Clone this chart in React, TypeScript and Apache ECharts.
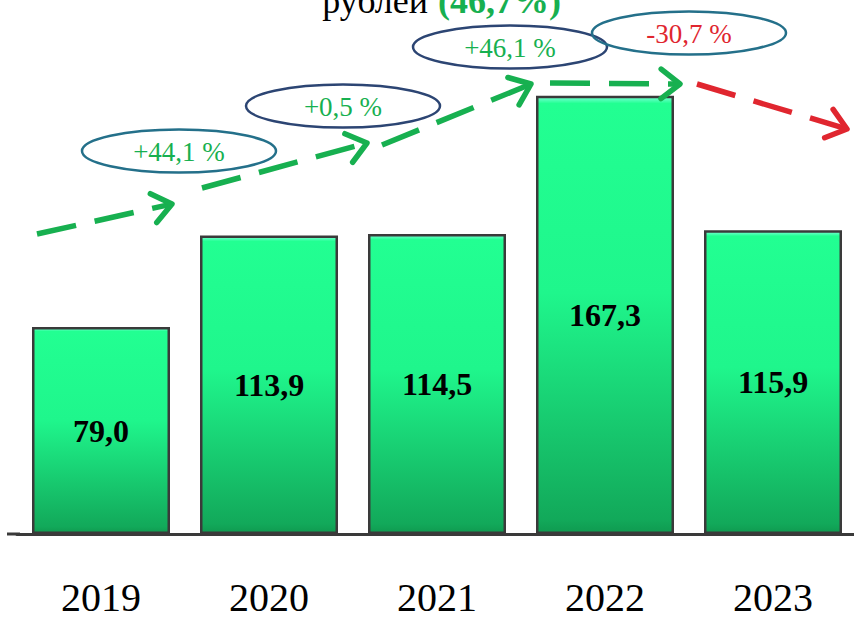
import React, { useEffect, useRef } from "react";
import * as echarts from "echarts";

const categories = ["2019", "2020", "2021", "2022", "2023"];
const values = [79.0, 113.9, 114.5, 167.3, 115.9];
const valueLabels = ["79,0", "113,9", "114,5", "167,3", "115,9"];
const changeLabels = ["+44,1 %", "+0,5 %", "+46,1 %", "-30,7 %"];
const titleText = "рублей";
const titleShare = "(46,7%)";

const SERIF = '"Liberation Serif", "Times New Roman", serif';
const GREEN = "#17b050";
const RED = "#e0262f";
const TEAL = "#24708a";
const NAVY = "#2c4573";

function chevron(sx: number, sy: number, tx: number, ty: number, color: string) {
  const dx = tx - sx;
  const dy = ty - sy;
  const len = Math.sqrt(dx * dx + dy * dy);
  const ux = -dx / len;
  const uy = -dy / len;
  const a = (38 * Math.PI) / 180;
  const L = 24;
  const r1x = ux * Math.cos(a) - uy * Math.sin(a);
  const r1y = ux * Math.sin(a) + uy * Math.cos(a);
  const r2x = ux * Math.cos(-a) - uy * Math.sin(-a);
  const r2y = ux * Math.sin(-a) + uy * Math.cos(-a);
  return {
    type: "polyline",
    shape: {
      points: [
        [tx + r1x * L, ty + r1y * L],
        [tx, ty],
        [tx + r2x * L, ty + r2y * L],
      ],
    },
    style: { stroke: color, lineWidth: 5.5, fill: "none", lineCap: "round", lineJoin: "round" },
    z: 10,
  };
}

function dashed(sx: number, sy: number, tx: number, ty: number, color: string) {
  return {
    type: "line",
    shape: { x1: sx, y1: sy, x2: tx - (tx - sx) * 0.02, y2: ty - (ty - sy) * 0.02 },
    style: { stroke: color, lineWidth: 5.5, lineDash: [40, 19], lineCap: "butt" },
    z: 10,
  };
}

function arrow(sx: number, sy: number, tx: number, ty: number, color: string) {
  return [dashed(sx, sy, tx, ty, color), chevron(sx, sy, tx, ty, color)];
}

function bubble(cx: number, cy: number, stroke: string, text: string, color: string) {
  return [
    {
      type: "ellipse",
      shape: { cx, cy, rx: 97, ry: 21.5 },
      style: { fill: "none", stroke, lineWidth: 2.5 },
      z: 11,
    },
    {
      type: "text",
      x: cx,
      y: cy + 1,
      style: {
        text,
        fill: color,
        font: `27px ${SERIF}`,
        align: "center",
        verticalAlign: "middle",
      },
      z: 12,
    },
  ];
}

export default function App() {
  const ref = useRef<HTMLDivElement>(null);

  useEffect(() => {
    if (!ref.current) return;
    const chart = echarts.init(ref.current, null, { renderer: "svg" });
    chart.setOption({
      animation: false,
      backgroundColor: "#ffffff",
      grid: {
        left: 17,
        right: -3,
        top: 10,
        bottom: 84,
        containLabel: false,
        outerBoundsMode: "none",
      },
      xAxis: {
        type: "category",
        data: categories,
        axisLine: { show: true, lineStyle: { color: "#3a3a3a", width: 3 } },
        axisTick: { show: false },
        axisLabel: {
          color: "#000",
          fontFamily: SERIF,
          fontSize: 40,
          lineHeight: 34,
          verticalAlign: "top",
          margin: 46,
        },
      },
      yAxis: {
        type: "value",
        min: 0,
        max: 200,
        show: false,
        splitLine: { show: false },
      },
      series: [
        {
          type: "bar",
          data: values,
          barWidth: 138,
          itemStyle: {
            color: new echarts.graphic.LinearGradient(0, 0, 0, 1, [
              { offset: 0, color: "#7affd6" },
              { offset: 0.015, color: "#22ff92" },
              { offset: 0.45, color: "#1ff68c" },
              { offset: 0.97, color: "#12a95a" },
              { offset: 1, color: "#0f9a50" },
            ]),
            borderColor: "#3a3a3a",
            borderWidth: 2.5,
          },
          label: {
            show: true,
            position: "inside",
            formatter: (p: any) => valueLabels[p.dataIndex],
            color: "#000",
            fontFamily: SERIF,
            fontWeight: "bold",
            fontSize: 32,
          },
        },
      ],
      graphic: [
        {
          type: "line",
          shape: { x1: 7, y1: 534, x2: 20, y2: 534 },
          style: { stroke: "#3a3a3a", lineWidth: 3 },
        },
        {
          type: "text",
          x: 428,
          y: 1,
          style: {
            text: titleText,
            fill: "#000",
            font: `36px ${SERIF}`,
            align: "right",
            verticalAlign: "middle",
          },
          z: 12,
        },
        {
          type: "text",
          x: 438,
          y: 1,
          style: {
            text: titleShare,
            fill: GREEN,
            font: `bold 36px ${SERIF}`,
            align: "left",
            verticalAlign: "middle",
          },
          z: 12,
        },
        ...bubble(179, 151, TEAL, changeLabels[0], GREEN),
        ...bubble(343, 106, NAVY, changeLabels[1], GREEN),
        ...bubble(510, 47, NAVY, changeLabels[2], GREEN),
        ...bubble(689, 33, TEAL, changeLabels[3], RED),
        ...arrow(37, 234, 172, 204, GREEN),
        ...arrow(202, 188, 367, 143, GREEN),
        ...arrow(382, 145, 531, 84, GREEN),
        ...arrow(550, 83, 680, 84, GREEN),
        ...arrow(697, 84, 847, 129, RED),
      ],
    });
    return () => chart.dispose();
  }, []);

  return (
    <div
      ref={ref}
      style={{ position: "fixed", left: 0, top: 0, width: 854, height: 618 }}
    />
  );
}
